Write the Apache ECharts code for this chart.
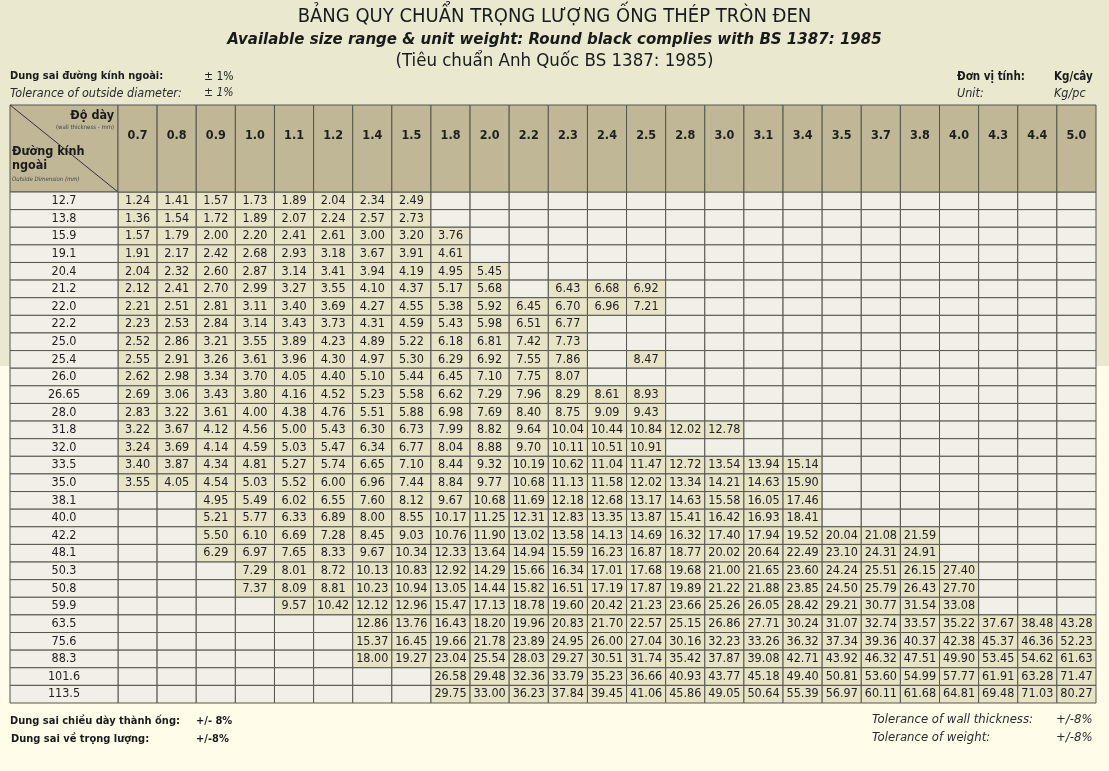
<!DOCTYPE html>
<html><head><meta charset="utf-8">
<script src="https://cdn.jsdelivr.net/npm/echarts@6/dist/echarts.min.js"></script>
<style>html,body{margin:0;padding:0;background:#fffde9}#c{width:1109px;height:771px}</style>
</head><body><div id="c"></div>
<script>
const thickness = ['0.7','0.8','0.9','1.0','1.1','1.2','1.4','1.5','1.8','2.0','2.2','2.3','2.4','2.5','2.8','3.0','3.1','3.4','3.5','3.7','3.8','4.0','4.3','4.4','5.0'];
const diameters = ['12.7','13.8','15.9','19.1','20.4','21.2','22.0','22.2','25.0','25.4','26.0','26.65','28.0','31.8','32.0','33.5','35.0','38.1','40.0','42.2','48.1','50.3','50.8','59.9','63.5','75.6','88.3','101.6','113.5'];

const w12_7 = [1.24,1.41,1.57,1.73,1.89,2.04,2.34,2.49];
const w13_8 = [1.36,1.54,1.72,1.89,2.07,2.24,2.57,2.73];
const w15_9 = [1.57,1.79,2.00,2.20,2.41,2.61,3.00,3.20,3.76];
const w19_1 = [1.91,2.17,2.42,2.68,2.93,3.18,3.67,3.91,4.61];
const w20_4 = [2.04,2.32,2.60,2.87,3.14,3.41,3.94,4.19,4.95,5.45];
const w21_2 = [2.12,2.41,2.70,2.99,3.27,3.55,4.10,4.37,5.17,5.68,null,6.43,6.68,6.92];
const w22_0 = [2.21,2.51,2.81,3.11,3.40,3.69,4.27,4.55,5.38,5.92,6.45,6.70,6.96,7.21];
const w22_2 = [2.23,2.53,2.84,3.14,3.43,3.73,4.31,4.59,5.43,5.98,6.51,6.77];
const w25_0 = [2.52,2.86,3.21,3.55,3.89,4.23,4.89,5.22,6.18,6.81,7.42,7.73];
const w25_4 = [2.55,2.91,3.26,3.61,3.96,4.30,4.97,5.30,6.29,6.92,7.55,7.86,null,8.47];
const w26_0 = [2.62,2.98,3.34,3.70,4.05,4.40,5.10,5.44,6.45,7.10,7.75,8.07];
const w26_65 = [2.69,3.06,3.43,3.80,4.16,4.52,5.23,5.58,6.62,7.29,7.96,8.29,8.61,8.93];
const w28_0 = [2.83,3.22,3.61,4.00,4.38,4.76,5.51,5.88,6.98,7.69,8.40,8.75,9.09,9.43];
const w31_8 = [3.22,3.67,4.12,4.56,5.00,5.43,6.30,6.73,7.99,8.82,9.64,10.04,10.44,10.84,12.02,12.78];
const w32_0 = [3.24,3.69,4.14,4.59,5.03,5.47,6.34,6.77,8.04,8.88,9.70,10.11,10.51,10.91];
const w33_5 = [3.40,3.87,4.34,4.81,5.27,5.74,6.65,7.10,8.44,9.32,10.19,10.62,11.04,11.47,12.72,13.54,13.94,15.14];
const w35_0 = [3.55,4.05,4.54,5.03,5.52,6.00,6.96,7.44,8.84,9.77,10.68,11.13,11.58,12.02,13.34,14.21,14.63,15.90];
const w38_1 = [null,null,4.95,5.49,6.02,6.55,7.60,8.12,9.67,10.68,11.69,12.18,12.68,13.17,14.63,15.58,16.05,17.46];
const w40_0 = [null,null,5.21,5.77,6.33,6.89,8.00,8.55,10.17,11.25,12.31,12.83,13.35,13.87,15.41,16.42,16.93,18.41];
const w42_2 = [null,null,5.50,6.10,6.69,7.28,8.45,9.03,10.76,11.90,13.02,13.58,14.13,14.69,16.32,17.40,17.94,19.52,20.04,21.08,21.59];
const w48_1 = [null,null,6.29,6.97,7.65,8.33,9.67,10.34,12.33,13.64,14.94,15.59,16.23,16.87,18.77,20.02,20.64,22.49,23.10,24.31,24.91];
const w50_3 = [null,null,null,7.29,8.01,8.72,10.13,10.83,12.92,14.29,15.66,16.34,17.01,17.68,19.68,21.00,21.65,23.60,24.24,25.51,26.15,27.40];
const w50_8 = [null,null,null,7.37,8.09,8.81,10.23,10.94,13.05,14.44,15.82,16.51,17.19,17.87,19.89,21.22,21.88,23.85,24.50,25.79,26.43,27.70];
const w59_9 = [null,null,null,null,9.57,10.42,12.12,12.96,15.47,17.13,18.78,19.60,20.42,21.23,23.66,25.26,26.05,28.42,29.21,30.77,31.54,33.08];
const w63_5 = [null,null,null,null,null,null,12.86,13.76,16.43,18.20,19.96,20.83,21.70,22.57,25.15,26.86,27.71,30.24,31.07,32.74,33.57,35.22,37.67,38.48,43.28];
const w75_6 = [null,null,null,null,null,null,15.37,16.45,19.66,21.78,23.89,24.95,26.00,27.04,30.16,32.23,33.26,36.32,37.34,39.36,40.37,42.38,45.37,46.36,52.23];
const w88_3 = [null,null,null,null,null,null,18.00,19.27,23.04,25.54,28.03,29.27,30.51,31.74,35.42,37.87,39.08,42.71,43.92,46.32,47.51,49.90,53.45,54.62,61.63];
const w101_6 = [null,null,null,null,null,null,null,null,26.58,29.48,32.36,33.79,35.23,36.66,40.93,43.77,45.18,49.40,50.81,53.60,54.99,57.77,61.91,63.28,71.47];
const w113_5 = [null,null,null,null,null,null,null,null,29.75,33.00,36.23,37.84,39.45,41.06,45.86,49.05,50.64,55.39,56.97,60.11,61.68,64.81,69.48,71.03,80.27];

const rowsList = [w12_7,w13_8,w15_9,w19_1,w20_4,w21_2,w22_0,w22_2,w25_0,w25_4,w26_0,w26_65,w28_0,w31_8,w32_0,w33_5,w35_0,w38_1,w40_0,w42_2,w48_1,w50_3,w50_8,w59_9,w63_5,w75_6,w88_3,w101_6,w113_5];

const cells = [];
rowsList.forEach((r, yi) => {
  thickness.forEach((t, xi) => {
    const v = r[xi];
    cells.push([xi, yi, (v === null || v === undefined) ? '' : v.toFixed(2)]);
  });
});

const FONT = '"Liberation Sans Narrow","DejaVu Sans Condensed",sans-serif';
const FFOOT = '"DejaVu Sans Condensed",sans-serif';
const FILLED = '#e7e3c6', EMPTY = '#f1efe7', HEAD = '#c0b796', LINE = '#56564e';
const TOP = 192, BOTTOM = 703, HEADTOP = 105, LEFT = 10, COL0 = 118, RIGHT = 1096;

const chart = echarts.init(document.getElementById('c'), null, {renderer: 'canvas'});

function cellRender(fillFn, textFn, fontFn) {
  return function (params, api) {
    const p = api.coord([api.value(0), api.value(1)]);
    const s = api.size([1, 1]);
    const idx = params.dataIndex;
    return {
      type: 'group',
      children: [
        {type: 'rect', shape: {x: p[0] - s[0] / 2, y: p[1] - s[1] / 2, width: s[0], height: s[1]},
         style: {fill: fillFn(idx), stroke: LINE, lineWidth: 1}},
        {type: 'text', style: {text: textFn(idx), x: p[0], y: p[1] + (fontFn.dy || 0), align: 'center', verticalAlign: 'middle',
          font: fontFn(idx), fill: '#1e1e1e'}}
      ]
    };
  };
}
const headFont = () => 'bold 12.5px ' + FONT; headFont.dy = -13;
const cellFont = () => '12.5px ' + FONT;

const option = {
  backgroundColor: '#fffde9',
  animation: false,
  graphic: [
    {type: 'rect', z: -10, shape: {x: 0, y: 0, width: 1109, height: 366}, style: {fill: '#ebe8d0'}},
    {type: 'text', left: 'center', top: 7, style: {text: 'BẢNG QUY CHUẨN TRỌNG LƯỢNG ỐNG THÉP TRÒN ĐEN', font: '20px ' + FONT, fill: '#1a1a1a'}},
    {type: 'text', left: 'center', top: 31, style: {text: 'Available size range & unit weight: Round black complies with BS 1387: 1985', font: 'italic bold 16.7px ' + FONT, fill: '#1a1a1a'}},
    {type: 'text', left: 'center', top: 52, style: {text: '(Tiêu chuẩn Anh Quốc BS 1387: 1985)', font: '18.5px ' + FONT, fill: '#1a1a1a'}},
    {type: 'text', x: 10, y: 71, style: {text: 'Dung sai đường kính ngoài:', font: 'bold 11px ' + FONT, fill: '#1a1a1a'}},
    {type: 'text', x: 204, y: 71, style: {text: '± 1%', font: '12px ' + FONT, fill: '#1a1a1a'}},
    {type: 'text', x: 10, y: 87, style: {text: 'Tolerance of outside diameter:', font: 'italic 12.5px ' + FONT, fill: '#2a2a2a'}},
    {type: 'text', x: 204, y: 87, style: {text: '± 1%', font: 'italic 12px ' + FONT, fill: '#2a2a2a'}},
    {type: 'text', x: 957, y: 71, style: {text: 'Đơn vị tính:', font: 'bold 11.5px ' + FONT, fill: '#1a1a1a'}},
    {type: 'text', x: 1054, y: 71, style: {text: 'Kg/cây', font: 'bold 11.5px ' + FONT, fill: '#1a1a1a'}},
    {type: 'text', x: 957, y: 87, style: {text: 'Unit:', font: 'italic 12.5px ' + FONT, fill: '#2a2a2a'}},
    {type: 'text', x: 1054, y: 87, style: {text: 'Kg/pc', font: 'italic 12.5px ' + FONT, fill: '#2a2a2a'}},
    // corner header cell
    {type: 'rect', shape: {x: LEFT, y: HEADTOP, width: COL0 - LEFT, height: TOP - HEADTOP}, style: {fill: HEAD, stroke: LINE, lineWidth: 1}},
    {type: 'line', shape: {x1: LEFT, y1: HEADTOP, x2: COL0, y2: TOP}, style: {stroke: '#333', lineWidth: 1}},
    {type: 'text', x: 114, y: 109, style: {text: 'Độ dày', align: 'right', font: 'bold 12.5px ' + FONT, fill: '#1a1a1a'}},
    {type: 'text', x: 114, y: 124, style: {text: '(wall thickness - mm)', align: 'right', font: '6px ' + FONT, fill: '#444'}},
    {type: 'text', x: 12, y: 145, style: {text: 'Đường kính', font: 'bold 12.5px ' + FONT, fill: '#1a1a1a'}},
    {type: 'text', x: 12, y: 159, style: {text: 'ngoài', font: 'bold 12.5px ' + FONT, fill: '#1a1a1a'}},
    {type: 'text', x: 12, y: 176, style: {text: 'Outside Dimension (mm)', font: 'italic 6px ' + FONT, fill: '#444'}},
    // footer
    {type: 'text', x: 10, y: 716, style: {text: 'Dung sai chiều dày thành ống:', font: 'bold 11px ' + FFOOT, fill: '#1a1a1a'}},
    {type: 'text', x: 196, y: 716, style: {text: '+/- 8%', font: 'bold 11px ' + FFOOT, fill: '#1a1a1a'}},
    {type: 'text', x: 11, y: 734, style: {text: 'Dung sai về trọng lượng:', font: 'bold 11px ' + FFOOT, fill: '#1a1a1a'}},
    {type: 'text', x: 196, y: 734, style: {text: '+/-8%', font: 'bold 11px ' + FFOOT, fill: '#1a1a1a'}},
    {type: 'text', x: 872, y: 713, style: {text: 'Tolerance of wall thickness:', font: 'italic 13px ' + FONT, fill: '#2a2a2a'}},
    {type: 'text', x: 1056, y: 713, style: {text: '+/-8%', font: 'italic 13px ' + FONT, fill: '#2a2a2a'}},
    {type: 'text', x: 872, y: 731, style: {text: 'Tolerance of weight:', font: 'italic 13px ' + FONT, fill: '#2a2a2a'}},
    {type: 'text', x: 1056, y: 731, style: {text: '+/-8%', font: 'italic 13px ' + FONT, fill: '#2a2a2a'}}
  ],
  grid: [
    {left: COL0, right: 1109 - RIGHT, top: TOP, bottom: 771 - BOTTOM},
    {left: COL0, right: 1109 - RIGHT, top: HEADTOP, height: TOP - HEADTOP},
    {left: LEFT, width: COL0 - LEFT, top: TOP, bottom: 771 - BOTTOM}
  ],
  xAxis: [
    {type: 'category', data: thickness, gridIndex: 0, show: false},
    {type: 'category', data: thickness, gridIndex: 1, show: false},
    {type: 'category', data: [''], gridIndex: 2, show: false}
  ],
  yAxis: [
    {type: 'category', data: diameters, gridIndex: 0, inverse: true, show: false},
    {type: 'category', data: [''], gridIndex: 1, show: false},
    {type: 'category', data: diameters, gridIndex: 2, inverse: true, show: false}
  ],
  series: [
    {
      type: 'custom', xAxisIndex: 0, yAxisIndex: 0, data: cells.map(c => [c[0], c[1]]),
      renderItem: cellRender(i => cells[i][2] ? FILLED : EMPTY, i => cells[i][2], cellFont)
    },
    {
      type: 'custom', xAxisIndex: 1, yAxisIndex: 1, data: thickness.map((t, i) => [i, 0]),
      renderItem: cellRender(() => HEAD, i => thickness[i], headFont)
    },
    {
      type: 'custom', xAxisIndex: 2, yAxisIndex: 2, data: diameters.map((d, i) => [0, i]),
      renderItem: cellRender(() => EMPTY, i => diameters[i], cellFont)
    }
  ]
};
chart.setOption(option);
</script>
</body></html>
